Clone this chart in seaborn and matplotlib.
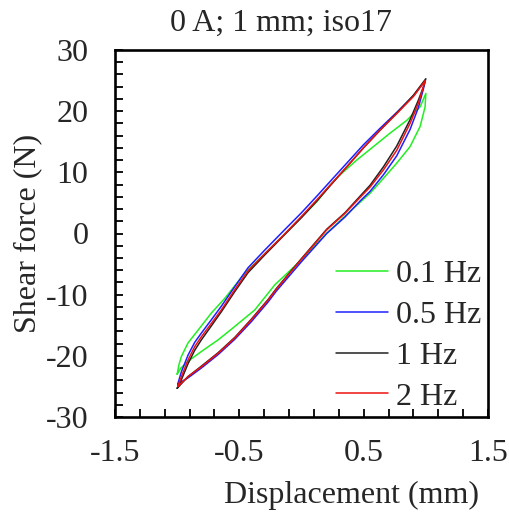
import numpy as np
import pandas as pd
import matplotlib
matplotlib.use("Agg")
import matplotlib.pyplot as plt
import seaborn as sns
from matplotlib.ticker import MultipleLocator, FixedLocator

# ---------------- data ----------------
labels = ["0.1 Hz", "0.5 Hz", "1 Hz", "2 Hz"]
colors = ["#22ee22", "#1f1fff", "#222222", "#ee1111"]

# 0.1 Hz loop: upper branch left->right, then lower branch right->left
x_01 = [-1.0, -0.985, -0.966, -0.913, -0.832, -0.725, -0.617, -0.457, -0.30, -0.146, 0.0,
        0.123, 0.23, 0.31, 0.444, 0.578, 0.712, 0.847, 0.954, 1.0,
        0.994, 0.954, 0.873, 0.766, 0.632, 0.552, 0.40, 0.20, 0.0, -0.215,
        -0.376, -0.537, -0.671, -0.806, -0.913, -0.97, -1.0]
y_01 = [-23.0, -21.4, -20.1, -17.9, -15.8, -13.0, -10.6, -6.5, -3.4, -0.3, 2.7,
        5.2, 7.9, 9.6, 12.0, 14.2, 16.4, 18.5, 20.7, 22.9,
        20.7, 17.5, 14.2, 11.5, 8.4, 6.6, 3.8, 0.0, -4.3, -8.4,
        -12.5, -15.2, -17.4, -19.3, -20.9, -22.0, -23.0]

# 0.5 Hz loop
x_05 = [-0.995, -0.966, -0.913, -0.859, -0.806, -0.725, -0.645, -0.537, -0.43, -0.30, -0.146, 0.0,
        0.123, 0.23, 0.364, 0.498, 0.632, 0.766, 0.90, 0.995,
        0.98, 0.94, 0.873, 0.766, 0.659, 0.552, 0.471, 0.35, 0.203, 0.0,
        -0.202, -0.269, -0.403, -0.537, -0.671, -0.806, -0.913, -0.995]
y_05 = [-24.6, -22.6, -19.9, -17.8, -16.3, -14.1, -11.9, -8.7, -5.6, -2.8, 0.4, 3.4,
        6.1, 8.5, 11.5, 14.5, 17.2, 19.8, 22.5, 25.0,
        23.6, 20.6, 17.0, 12.7, 9.6, 6.9, 5.3, 2.7, 0.0, -4.6,
        -9.4, -11.2, -14.4, -17.3, -19.8, -22.0, -23.6, -24.6]

# 1 Hz loop
x_1 = [-1.0, -0.966, -0.913, -0.859, -0.806, -0.725, -0.645, -0.537, -0.43, -0.30, -0.146, 0.0,
       0.123, 0.23, 0.364, 0.498, 0.632, 0.766, 0.90, 1.0,
       0.985, 0.94, 0.873, 0.766, 0.659, 0.552, 0.471, 0.35, 0.203, 0.0,
       -0.202, -0.269, -0.403, -0.537, -0.671, -0.806, -0.913, -1.0]
y_1 = [-25.3, -23.9, -21.3, -19.1, -17.4, -15.1, -12.8, -9.5, -6.4, -3.6, -0.4, 2.6,
       5.3, 7.8, 10.9, 14.0, 16.9, 19.7, 22.6, 25.3,
       24.2, 21.8, 18.6, 14.3, 10.9, 7.9, 6.1, 3.4, 0.7, -4.1,
       -9.0, -10.8, -14.0, -17.0, -19.5, -21.7, -23.4, -25.3]

# 2 Hz loop
x_2 = [-0.995, -0.966, -0.913, -0.859, -0.806, -0.725, -0.645, -0.537, -0.43, -0.30, -0.146, 0.0,
       0.123, 0.23, 0.364, 0.498, 0.632, 0.766, 0.90, 0.995,
       0.98, 0.94, 0.873, 0.766, 0.659, 0.552, 0.471, 0.35, 0.203, 0.0,
       -0.202, -0.269, -0.403, -0.537, -0.671, -0.806, -0.913, -0.995]
y_2 = [-25.0, -23.4, -20.7, -18.5, -16.9, -14.7, -12.5, -9.2, -6.1, -3.4, -0.3, 2.8,
       5.5, 7.9, 10.9, 14.0, 16.9, 19.6, 22.4, 25.0,
       24.0, 21.3, 18.0, 13.6, 10.4, 7.6, 5.9, 3.3, 0.6, -4.2,
       -9.1, -10.9, -14.1, -17.1, -19.6, -21.8, -23.4, -25.0]

title = "0 A; 1 mm; iso17"
xlabel = "Displacement (mm)"
ylabel = "Shear force (N)"
xticks = [-1.5, -0.5, 0.5, 1.5]
xtick_labels = ["-1.5", "-0.5", "0.5", "1.5"]
yticks = [-30, -20, -10, 0, 10, 20, 30]
ytick_labels = ["-30", "-20", "-10", "0", "10", "20", "30"]

# ---------------- build long table ----------------
frames = []
for lab, xs, ys in zip(labels, [x_01, x_05, x_1, x_2], [y_01, y_05, y_1, y_2]):
    frames.append(pd.DataFrame({"x": xs, "y": ys, "series": lab}))
df = pd.concat(frames, ignore_index=True)

# ---------------- style ----------------
sns.set_style("ticks")
plt.rcParams["font.family"] = ["Liberation Serif", "DejaVu Serif"]
plt.rcParams["axes.unicode_minus"] = False
FS = 23

fig = plt.figure(figsize=(5.09, 5.17), dpi=100)
ax = fig.add_axes([115 / 509, 1 - 417 / 517, (488 - 115) / 509, (417 - 50) / 517])

sns.lineplot(data=df, x="x", y="y", hue="series", hue_order=labels,
             palette=dict(zip(labels, colors)), sort=False, estimator=None,
             linewidth=1.1, ax=ax)

ax.set_xlim(-1.5, 1.5)
ax.set_ylim(-30, 30)
ax.xaxis.set_major_locator(FixedLocator(xticks))
ax.set_xticklabels(xtick_labels)
ax.xaxis.set_minor_locator(FixedLocator(list(np.round(np.arange(-1.3, 1.5, 0.2), 2))))
ax.yaxis.set_major_locator(FixedLocator(yticks))
ax.set_yticklabels(ytick_labels)
ax.yaxis.set_minor_locator(MultipleLocator(2))

ax.tick_params(axis="both", which="both", direction="in", length=6, width=1.3,
               labelsize=FS, color="black", top=False, right=False)
ax.tick_params(axis="x", which="major", pad=16)
ax.tick_params(axis="y", which="major", pad=19)
for sp in ax.spines.values():
    sp.set_visible(True)
    sp.set_linewidth(1.9)
    sp.set_color("black")

ax.set_xlabel(xlabel, fontsize=FS)
ax.set_ylabel(ylabel, fontsize=FS, labelpad=3)
# label / title positions as in the reference (xlabel right of centre, title left of centre)
ax.xaxis.set_label_coords(0.633, -0.175)
ax.set_title(title, fontsize=FS, pad=14, x=0.445)

leg = ax.legend(loc="lower right", bbox_to_anchor=(1.015, -0.02), frameon=False,
                fontsize=FS, handlelength=1.6, handletextpad=0.25,
                labelspacing=0.36, borderaxespad=0.0)
for h in leg.get_lines():
    h.set_linewidth(1.1)

fig.savefig("out.png", dpi=100)
